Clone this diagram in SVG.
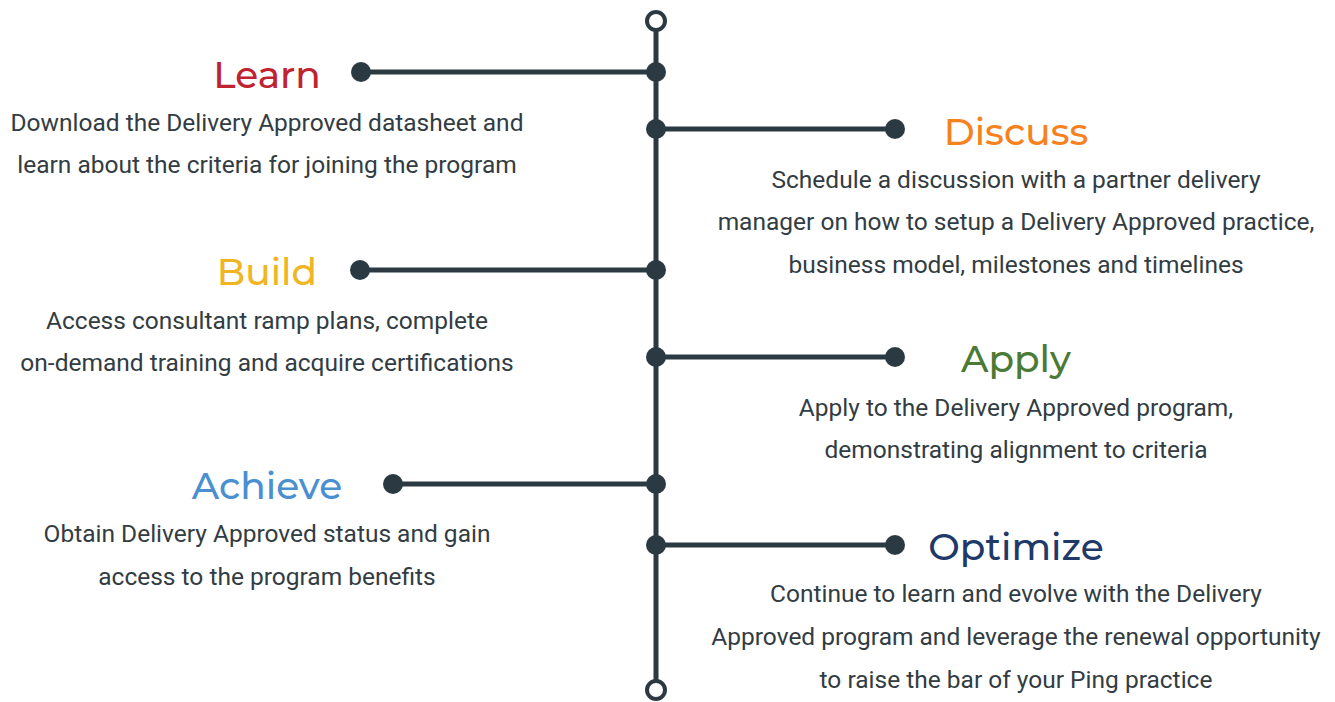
<svg xmlns="http://www.w3.org/2000/svg" width="1335" height="702" viewBox="0 0 1335 702">
<style>
.ln{stroke:#2b3a42;stroke-width:5;fill:none}
.dot{fill:#2b3a42}
.ring{fill:#fff;stroke:#2b3a42;stroke-width:4}
.t{font-family:"Montserrat","Lato","Open Sans",sans-serif;font-size:37.5px;font-weight:500;text-anchor:middle}
.b{font-family:Roboto,"Open Sans",sans-serif;font-size:24.5px;fill:#323c42;text-anchor:middle}
</style>
<rect width="1335" height="702" fill="#fff"/>
<g id="connectors">
<line class="ln" x1="656" y1="30" x2="656" y2="681"/>
<line class="ln" x1="361" y1="72" x2="656" y2="72"/>
<line class="ln" x1="656" y1="129" x2="895" y2="129"/>
<line class="ln" x1="360" y1="270" x2="656" y2="270"/>
<line class="ln" x1="656" y1="357" x2="895" y2="357"/>
<line class="ln" x1="393" y1="484" x2="656" y2="484"/>
<line class="ln" x1="656" y1="545" x2="895" y2="545"/>
<circle class="ring" cx="656" cy="21" r="9"/>
<circle class="ring" cx="656" cy="690" r="9"/>
<circle class="dot" cx="656" cy="72" r="10"/>
<circle class="dot" cx="361" cy="72" r="10"/>
<circle class="dot" cx="656" cy="129" r="10"/>
<circle class="dot" cx="895" cy="129" r="10"/>
<circle class="dot" cx="656" cy="270" r="10"/>
<circle class="dot" cx="360" cy="270" r="10"/>
<circle class="dot" cx="656" cy="357" r="10"/>
<circle class="dot" cx="895" cy="357" r="10"/>
<circle class="dot" cx="656" cy="484" r="10"/>
<circle class="dot" cx="393" cy="484" r="10"/>
<circle class="dot" cx="656" cy="545" r="10"/>
<circle class="dot" cx="895" cy="545" r="10"/>
</g>
<g id="learn">
<text class="t" x="267" y="88" fill="#c0232f">Learn</text>
<text class="b" x="267" y="131">Download the Delivery Approved datasheet and</text>
<text class="b" x="267" y="173">learn about the criteria for joining the program</text>
</g>
<g id="discuss">
<text class="t" x="1016" y="145" fill="#f5821f">Discuss</text>
<text class="b" x="1016" y="188">Schedule a discussion with a partner delivery</text>
<text class="b" x="1016" y="230">manager on how to setup a Delivery Approved practice,</text>
<text class="b" x="1016" y="273">business model, milestones and timelines</text>
</g>
<g id="build">
<text class="t" x="267" y="285" fill="#f0b523">Build</text>
<text class="b" x="267" y="329">Access consultant ramp plans, complete</text>
<text class="b" x="267" y="371">on-demand training and acquire certifications</text>
</g>
<g id="apply">
<text class="t" x="1016" y="372" fill="#4a7a35">Apply</text>
<text class="b" x="1016" y="416">Apply to the Delivery Approved program,</text>
<text class="b" x="1016" y="458">demonstrating alignment to criteria</text>
</g>
<g id="achieve">
<text class="t" x="267" y="499" fill="#4a90d0">Achieve</text>
<text class="b" x="267" y="542">Obtain Delivery Approved status and gain</text>
<text class="b" x="267" y="585">access to the program benefits</text>
</g>
<g id="optimize">
<text class="t" x="1016" y="560" fill="#1f3a68">Optimize</text>
<text class="b" x="1016" y="602">Continue to learn and evolve with the Delivery</text>
<text class="b" x="1016" y="645">Approved program and leverage the renewal opportunity</text>
<text class="b" x="1016" y="688">to raise the bar of your Ping practice</text>
</g>
</svg>
